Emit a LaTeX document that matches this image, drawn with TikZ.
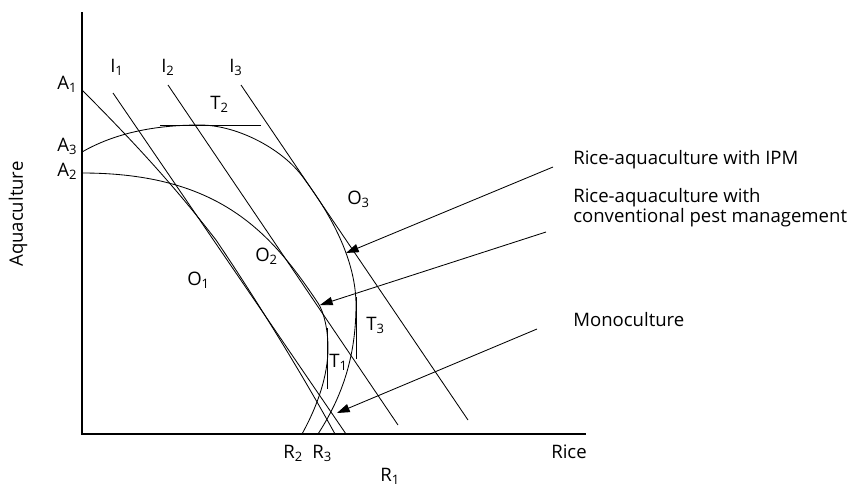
\documentclass[tikz,border=0pt]{standalone}
\usepackage{fontspec}
\setmainfont{Open Sans}
\usetikzlibrary{arrows.meta, calc}

\begin{document}
\begin{tikzpicture}[
    x=0.025cm, y=-0.025cm,
    > = {Triangle[length=9pt, width=6pt]},
    axis/.style={line width=0.9pt},
    curve/.style={line width=0.6pt},
    lbl/.style={font=\fontsize{13.2}{14.2}\selectfont, inner sep=0pt, anchor=base west},
    note/.style={lbl, align=left}
]
\useasboundingbox (0,0) rectangle (856,489);

% 1. AXES
\coordinate (O) at (82,434);
\coordinate (ytop) at (82,12);
\coordinate (xend) at (586,434);
\draw[axis] (ytop) -- (O) -- (xend);
\node[lbl, rotate=90] (aqua) at (23,267) {Aquaculture};
\node[lbl] (rice) at (551,458) {Rice};

% 2. PRODUCTION FRONTIERS
% monoculture A1 -> R1
\draw[curve] (82,90) .. controls (150,158) and (185,200) .. (216,240)
                     .. controls (250,290) and (300,370) .. (335,434);
% conventional A2 -> R2
\draw[curve] (82,173) .. controls (220,173) and (271,233) .. (318,303)
                      .. controls (324,312) and (328,330) .. (328,348)
                      .. controls (328,375) and (318,405) .. (302,434);
% IPM A3 -> R3
\draw[curve] (82,152) .. controls (115,133) and (155,125) .. (200,125)
                      .. controls (238,125) and (285,150) .. (305,180)
                      .. controls (325,207) and (356,255) .. (356,305)
                      .. controls (356,360) and (340,400) .. (318,434);

% 3. ISO-REVENUE LINES
\coordinate (i1s) at (113,93);  \coordinate (i1e) at (346,434);
\coordinate (i2s) at (168,85);  \coordinate (i2e) at (398,425);
\coordinate (i3s) at (241,85);  \coordinate (i3e) at (468,420);
\draw[curve] (i1s) -- (i1e);
\draw[curve] (i2s) -- (i2e);
\draw[curve] (i3s) -- (i3e);

% 4. TANGENTS
\coordinate (t2s) at (160,125); \coordinate (t2e) at (261,125);
\coordinate (t1s) at (327,328); \coordinate (t1e) at (327,389);
\coordinate (t3s) at (356,297); \coordinate (t3e) at (356,359);
\draw[curve] (t2s) -- (t2e);
\draw[curve] (t1s) -- (t1e);
\draw[curve] (t3s) -- (t3e);

% 5. LABELS
\node[lbl] (A1) at (57,89)  {A\textsubscript{1}};
\node[lbl] (A3) at (57,151) {A\textsubscript{3}};
\node[lbl] (A2) at (57,176) {A\textsubscript{2}};
\node[lbl] (I1) at (110,72) {I\textsubscript{1}};
\node[lbl] (I2) at (161,72) {I\textsubscript{2}};
\node[lbl] (I3) at (229,72) {I\textsubscript{3}};
\node[lbl] (T2) at (210,109) {T\textsubscript{2}};
\node[lbl] (T1) at (329,367) {T\textsubscript{1}};
\node[lbl] (T3) at (366,330) {T\textsubscript{3}};
\node[lbl] (O1) at (187,285) {O\textsubscript{1}};
\node[lbl] (O2) at (255,261) {O\textsubscript{2}};
\node[lbl] (O3) at (347,204) {O\textsubscript{3}};
\node[lbl] (R2) at (283,458) {R\textsubscript{2}};
\node[lbl] (R3) at (312,458) {R\textsubscript{3}};
\node[lbl] (R1) at (380,481) {R\textsubscript{1}};

% 6. KEY WITH ARROWS
\node[note] (ipm) at (573,164) {Rice-aquaculture with IPM};
\node[note] (conv) at (573,222) {Rice-aquaculture with\\conventional pest management};
\node[note] (mono) at (573,326) {Monoculture};

\coordinate (ipmtail) at (553,167);   \coordinate (ipmtip) at (346,253);
\coordinate (convtail) at (546,232);  \coordinate (convtip) at (320,305);
\coordinate (monotail) at (537,329);  \coordinate (monotip) at (337,413);
\draw[curve, ->] (ipmtail) -- (ipmtip);
\draw[curve, ->] (convtail) -- (convtip);
\draw[curve, ->] (monotail) -- (monotip);
\end{tikzpicture}
\end{document}
